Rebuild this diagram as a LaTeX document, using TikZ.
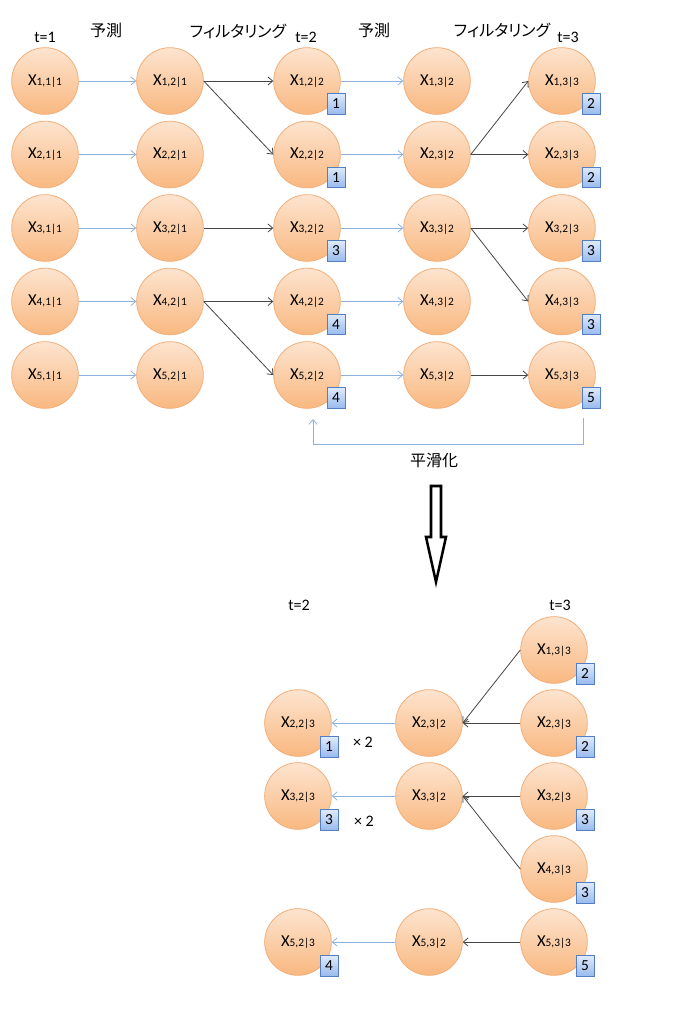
\documentclass[tikz,border=0pt]{standalone}
\usepackage{fontspec}
\usepackage{tikz}
\setmainfont{Carlito}
\newfontfamily\jp[RawFeature=+palt]{Noto Sans CJK JP}
\usetikzlibrary{arrows.meta}
\definecolor{ballTop}{RGB}{253,228,207}
\definecolor{ballBottom}{RGB}{249,184,128}
\definecolor{ballEdge}{RGB}{242,174,120}
\definecolor{boxTop}{RGB}{222,234,251}
\definecolor{boxBottom}{RGB}{152,186,238}
\definecolor{boxEdge}{RGB}{84,126,196}
\definecolor{predLine}{RGB}{141,178,224}
\definecolor{filtLine}{RGB}{70,70,70}
\newcommand{\xsub}[1]{X{\fontsize{8.5}{8.5}\selectfont #1}}
\tikzset{particle/.style = {circle, minimum size = 50pt, inner sep = 0pt,
                            top color = ballTop, bottom color = ballBottom,
                            draw = ballEdge, line width = 0.6pt, font = \fontsize{12.5}{12.5}\selectfont},
         weight/.style = {rectangle, minimum width = 13.5pt, minimum height = 15.5pt, inner sep = 0pt,
                          top color = boxTop, bottom color = boxBottom,
                          draw = boxEdge, line width = 0.6pt, font = \fontsize{11.5}{11.5}\selectfont},
         pred/.style = {draw = predLine, line width = 0.6pt, -{Straight Barb[length = 3.5pt, width = 6pt]}},
         filt/.style = {draw = filtLine, line width = 0.6pt, -{Straight Barb[length = 3.5pt, width = 6pt]}},
         jplabel/.style = {font = \jp\fontsize{12}{12}\selectfont},
         tlabel/.style = {font = \fontsize{12}{12}\selectfont}}

\begin{document}
\begin{tikzpicture}[x = 0.75pt, y = -0.75pt]
    \path [fill = white] (0, 0) rectangle (696, 1024);

    \node [tlabel] (t1) at (45, 37) {t=1};
    \node [jplabel] (yo1) at (106, 30) {予測};
    \node [jplabel] (fi1) at (238, 31) {フィルタリング};
    \node [tlabel] (t2) at (306, 37) {t=2};
    \node [jplabel] (yo2) at (374, 30) {予測};
    \node [jplabel] (fi2) at (502, 30) {フィルタリング};
    \node [tlabel] (t3) at (568, 37) {t=3};

    \foreach \r/\y/\f in {1/81/{1,3|3}, 2/154.5/{2,3|3}, 3/228/{3,2|3}, 4/301.5/{4,3|3}, 5/375/{5,3|3}} {
      \node [particle] (a\r) at (45, \y) {\xsub{\r,1|1}};
      \node [particle] (b\r) at (170, \y) {\xsub{\r,2|1}};
      \node [particle] (c\r) at (307, \y) {\xsub{\r,2|2}};
      \node [particle] (d\r) at (437, \y) {\xsub{\r,3|2}};
      \node [particle] (e\r) at (562, \y) {\xsub{\f}};
      \draw [pred] (a\r) -- (b\r);
      \draw [pred] (c\r) -- (d\r);
    }
    \foreach \r/\w in {1/1, 2/1, 3/3, 4/4, 5/4}
      \node [weight] (wc\r) at ([shift = {(29, 23)}] c\r.center) {\w};
    \foreach \r/\w in {1/2, 2/2, 3/3, 4/3, 5/5}
      \node [weight] (we\r) at ([shift = {(29, 23)}] e\r.center) {\w};

    \draw [filt] (b1.east) -- (c1.west);
    \draw [filt] (b1.east) -- (c2.west);
    \draw [filt] (b3.east) -- (c3.west);
    \draw [filt] (b4.east) -- (c4.west);
    \draw [filt] (b4.east) -- (c5.west);
    \draw [filt] (d2.east) -- (e1.west);
    \draw [filt] (d2.east) -- (e2.west);
    \draw [filt] (d3.east) -- (e3.west);
    \draw [filt] (d3.east) -- (e4.west);
    \draw [filt] (d5.east) -- (e5.west);

    \coordinate (s1) at (583, 418);
    \coordinate (s2) at (313, 419);
    \draw [pred] (s1) -- (583, 444) -| (s2);
    \node [jplabel] (smooth) at (434, 460) {平滑化};

    \draw [line width = 1.9pt, line join = miter] (431, 486) -- (441, 486) -- (441, 537) -- (446, 537)
      -- (436, 582) -- (426, 537) -- (431, 537) -- cycle;

    \node [tlabel] (t2b) at (299, 605) {t=2};
    \node [tlabel] (t3b) at (560, 605) {t=3};

    \foreach \r/\y/\f in {1/650/{1,3|3}, 2/723/{2,3|3}, 3/796/{3,2|3}, 4/869/{4,3|3}, 5/942/{5,3|3}}
      \node [particle] (w\r) at (554, \y) {\xsub{\f}};
    \foreach \r/\y in {2/723, 3/796, 5/942} {
      \node [particle] (v\r) at (429, \y) {\xsub{\r,3|2}};
      \node [particle] (u\r) at (298, \y) {\xsub{\r,2|3}};
      \draw [pred] (v\r) -- (u\r);
    }
    \foreach \r/\w in {2/1, 3/3, 5/4}
      \node [weight] (wu\r) at ([shift = {(31, 24)}] u\r.center) {\w};
    \foreach \r/\w in {1/2, 2/2, 3/3, 4/3, 5/5}
      \node [weight] (ww\r) at ([shift = {(31, 24)}] w\r.center) {\w};

    \draw [filt] (w1.west) -- (v2.east);
    \draw [filt] (w2.west) -- (v2.east);
    \draw [filt] (w3.west) -- (v3.east);
    \draw [filt] (w4.west) -- (v3.east);
    \draw [filt] (w5.west) -- (v5.east);

    \node [tlabel] (dup2) at (363, 742) {× 2};
    \node [tlabel] (dup3) at (364, 821) {× 2};
  \end{tikzpicture}
\end{document}
